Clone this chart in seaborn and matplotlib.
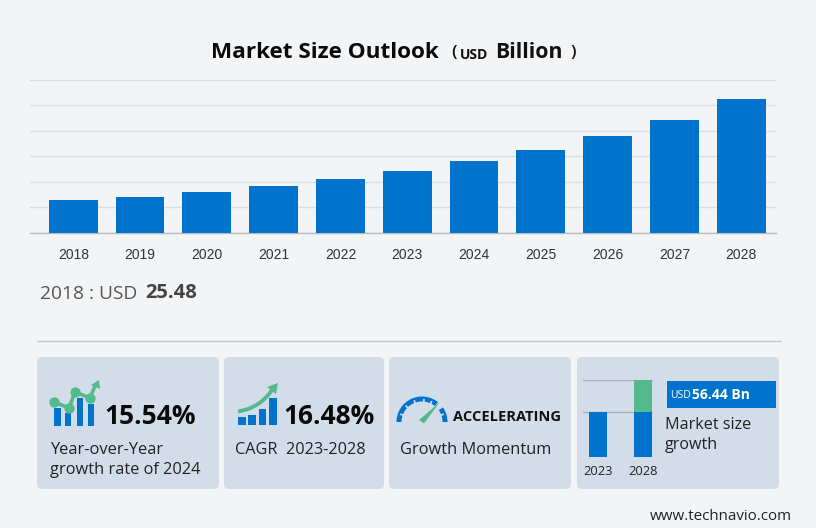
import numpy as np
import pandas as pd
import matplotlib
matplotlib.use("Agg")
import matplotlib.pyplot as plt
from matplotlib.patches import FancyBboxPatch, Rectangle, Wedge, Polygon, PathPatch
from matplotlib.path import Path
import seaborn as sns

# ---- data ----
years = ["2018", "2019", "2020", "2021", "2022", "2023", "2024", "2025", "2026", "2027", "2028"]
market_size = [25.48, 28.3, 32.3, 36.9, 42.0, 48.6, 56.15, 65.1, 76.0, 88.6, 105.04]
grid_values = [0, 20, 40, 60, 80, 100, 120]
mini_years = ["2023", "2028"]
mini_base = [45, 45]
mini_increment = [0, 32]

BG = "#f3f4f6"; CARD = "#d3dde9"; BLUE = "#0074cc"; GREEN = "#55b98e"
SANS = "Open Sans"

sns.set_theme(style="white")
plt.rcParams["font.family"] = [SANS, "DejaVu Sans"]

W, H = 816, 528
fig = plt.figure(figsize=(W / 100, H / 100), dpi=100, facecolor=BG)

def px_axes(x0, y0, x1, y1, z=1):
    a = fig.add_axes([x0 / W, 1 - y1 / H, (x1 - x0) / W, (y1 - y0) / H], zorder=z)
    a.patch.set_alpha(0)
    return a

# overlay in pixel coordinates for cards, icons and captions
bg = fig.add_axes([0, 0, 1, 1], zorder=0)
bg.set_xlim(0, W); bg.set_ylim(H, 0); bg.axis("off")
top = fig.add_axes([0, 0, 1, 1], zorder=5)
top.set_xlim(0, W); top.set_ylim(H, 0); top.axis("off"); top.patch.set_alpha(0)

# ---- main chart ----
ax = px_axes(30, 79.7, 776, 232.7, 2)
df = pd.DataFrame({"year": years, "size": market_size})
sns.barplot(data=df, x="year", y="size", color=BLUE, saturation=1, width=0.73, ax=ax,
            zorder=3, linewidth=0, edgecolor="none")
ax.set_xlim(-0.648, 10.52)
ax.set_ylim(0, 120)
ax.set_yticks(grid_values)
ax.set_yticklabels([])
ax.tick_params(axis="y", length=0)
ax.tick_params(axis="x", length=0, pad=11, labelsize=10, labelcolor="#333333",
               labelfontfamily="Liberation Sans")
ax.set_xlabel(""); ax.set_ylabel("")
ax.grid(axis="y", color="#dcdde1", lw=1)
ax.set_axisbelow(True)
for s in ["top", "left", "right"]:
    ax.spines[s].set_visible(False)
ax.spines["bottom"].set_color("#b9bbc0")
ax.spines["bottom"].set_linewidth(1)

# ---- title ----
top.text(211, 52, "Market Size Outlook", fontsize=16.2, fontweight="bold", color="#0a0a0a", va="center", ha="left")
top.text(451, 53, "(", fontsize=12.5, color="#111111", va="center", ha="left", fontweight="semibold")
top.text(460, 55, "USD", fontsize=10, color="#111111", va="center", ha="left", fontweight="bold")
top.text(495, 52, "Billion", fontsize=15.3, color="#111111", va="center", ha="left", fontweight="bold")
top.text(570, 53, ")", fontsize=12.5, color="#111111", va="center", ha="left", fontweight="semibold")

# ---- 2018 caption ----
top.text(40, 294, "2018 : USD", fontsize=13.8, color="#555555", va="center", ha="left")
top.text(145, 292.5, "25.48", fontsize=14.5, fontweight="bold", color="#444444", va="center", ha="left")

# ---- separator ----
bg.plot([37, 781], [341, 341], color="#c3c6d0", lw=1)

# ---- cards ----
for x0, x1 in [(37, 219), (224, 384), (389, 571), (577, 779)]:
    bg.add_patch(FancyBboxPatch((x0 + 5, 357 + 5), x1 - x0 - 10, 132 - 10,
                                boxstyle="round,pad=5,rounding_size=5", fc=CARD, ec="none"))

# ---- card 1 icon ----
for x0, x1, y in [(54, 61, 408), (65, 71, 413), (77, 83, 398), (88, 94, 404)]:
    top.add_patch(Rectangle((x0, y), x1 - x0, 426 - y, fc=BLUE, ec="none"))
ix = [54, 69, 75, 90]; iy = [402, 408, 392, 398]
top.plot(ix + [95], iy + [386], color=GREEN, lw=2.6, solid_capstyle="round", zorder=6)
top.scatter(ix, iy, s=55, color=GREEN, zorder=6, linewidths=0)
top.add_patch(Polygon([[91, 385], [99, 380], [100, 389]], fc=GREEN, ec="none", zorder=6))
top.text(104, 417, "15.54%", fontsize=19, fontweight="bold", color="#0a0a0a", va="center", ha="left")
top.text(50, 449.5, "Year-over-Year", fontsize=11.9, color="#222222", va="center", ha="left")
top.text(50, 469.5, "growth rate of 2024", fontsize=11.8, color="#222222", va="center", ha="left")

# ---- card 2 icon ----
for x0, x1, y in [(238, 246, 417), (248, 256, 415), (259, 266, 409), (269, 277, 398)]:
    top.add_patch(Rectangle((x0, y), x1 - x0, 425 - y, fc=BLUE, ec="none"))
top.add_patch(PathPatch(Path([(238, 411.5), (260, 408), (272, 390)], [Path.MOVETO, Path.CURVE3, Path.CURVE3]),
                        fc="none", ec=GREEN, lw=2.8, zorder=6))
top.add_patch(Polygon([[267, 387], [278, 383], [276, 394]], fc=GREEN, ec="none", zorder=6))
top.text(283, 417, "16.48%", fontsize=19, fontweight="bold", color="#0a0a0a", va="center", ha="left")
top.text(235, 449.5, "CAGR  2023-2028", fontsize=11.7, color="#222222", va="center", ha="left")

# ---- card 3 gauge ----
# y axis of the overlay is inverted, so wedge angles are mirrored
top.add_patch(Wedge((422, 422), 25.5, 180, 309, width=5, fc=BLUE, ec="none"))
top.add_patch(Wedge((422, 422), 25.5, 325, 360, width=5, fc=BLUE, ec="none"))
for a in np.deg2rad([200, 225, 250, 275, 295, 340]):
    top.plot([422 + 19.5 * np.cos(a), 422 + 22.5 * np.cos(a)],
             [422 + 19.5 * np.sin(a), 422 + 22.5 * np.sin(a)], color=CARD, lw=1.3, zorder=6)
top.add_patch(Polygon([[419, 420], [424, 423.5], [440, 402]], fc=GREEN, ec="none", zorder=6))
top.text(453, 417, "ACCELERATING", fontsize=10.5, fontweight="bold", color="#111111", va="center", ha="left")
top.text(400, 450, "Growth Momentum", fontsize=11.8, color="#222222", va="center", ha="left")

# ---- card 4 mini chart ----
mini = px_axes(583, 379.5, 653, 457, 2)
sns.barplot(x=mini_years, y=mini_base, color=BLUE, saturation=1, width=0.4, ax=mini,
            zorder=3, linewidth=0, edgecolor="none")
sns.barplot(x=mini_years, y=mini_increment, bottom=mini_base, color=GREEN, saturation=1, width=0.4, ax=mini,
            zorder=3, linewidth=0, edgecolor="none")
mini.set_xlim(-0.333, 1.222)
mini.set_ylim(0, 77.5)
mini.set_yticks([45, 77])
mini.set_yticklabels([])
mini.tick_params(axis="y", length=0)
mini.tick_params(axis="x", length=0, pad=6, labelsize=9.3, labelcolor="#222222")
mini.grid(axis="y", color="#a9b0ba", lw=1)
mini.set_axisbelow(False)
sns.despine(ax=mini, left=True, bottom=True)

top.add_patch(Rectangle((667, 381), 109, 27, fc=BLUE, ec="none"))
top.text(670, 396, "USD", fontsize=7.5, color="white", va="center", ha="left")
top.text(692, 395, "56.44 Bn", fontsize=10, fontweight="bold", color="white", va="center", ha="left")
top.text(665, 425, "Market size", fontsize=11.6, color="#222222", va="center", ha="left")
top.text(665, 445, "growth", fontsize=11.6, color="#222222", va="center", ha="left")

# ---- footer ----
top.text(650, 517, "www.technavio.com", fontsize=10.9, color="#222222", va="center", ha="left")

fig.savefig("out.png", dpi=100, facecolor=BG)
